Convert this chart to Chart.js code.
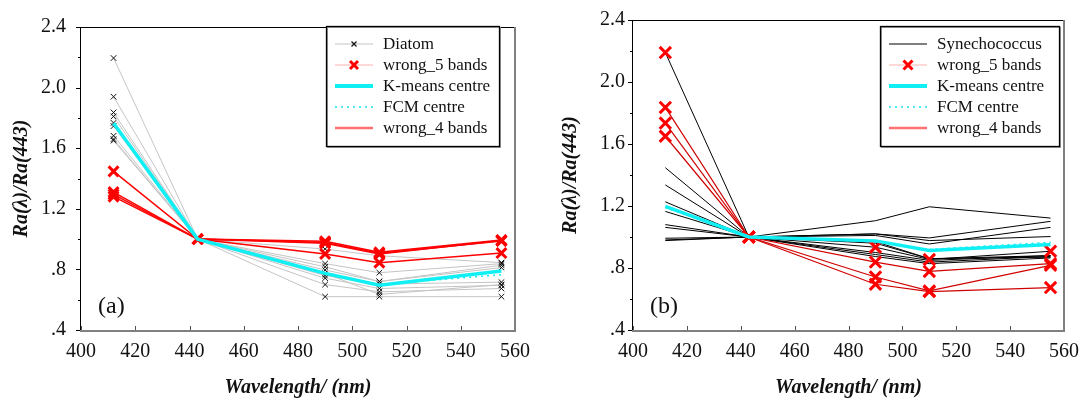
<!DOCTYPE html>
<html>
<head>
<meta charset="utf-8">
<script src="https://cdn.jsdelivr.net/npm/chart.js@4.4.1/dist/chart.umd.min.js"></script>
<style>
  html, body { margin: 0; padding: 0; background: #fff; }
  .panel { position: absolute; top: 0; }
</style>
</head>
<body>
<div class="panel" style="left:0"><canvas id="chartA" width="545" height="398"></canvas></div>
<div class="panel" style="left:545px"><canvas id="chartB" width="544" height="398"></canvas></div>
<script>
// wavelengths (nm) shared by every curve
const wavelengths = [412, 443, 490, 510, 555];

// y tick labels
const yTickValues = [0.4, 0.8, 1.2, 1.6, 2.0, 2.4];
const yTickText = ['.4', '.8', '1.2', '1.6', '2.0', '2.4'];

// panel (a) - Diatom spectra
const diatom1 = [2.195, 1, 0.62, 0.62, 0.62];
const diatom2 = [1.94, 1, 0.70, 0.652, 0.674];
const diatom3 = [1.836, 1, 0.742, 0.674, 0.695];
const diatom4 = [1.81, 1, 0.759, 0.703, 0.716];
const diatom5 = [1.767, 1, 0.796, 0.72, 0.812];
const diatom6 = [1.746, 1, 0.817, 0.72, 0.828];
const diatom7 = [1.682, 1, 0.838, 0.778, 0.838];
const diatom8 = [1.66, 1, 0.934, 0.89, 0.845];
const diatom9 = [1.65, 1, 0.774, 0.635, 0.70];
const wrong5a1 = [1.447, 1, 0.902, 0.844, 0.908];
const wrong5a2 = [1.31, 1, 0.985, 0.913, 0.994];
const wrong5a3 = [1.295, 1, 0.978, 0.907, 0.988];
const wrong5a4 = [1.28, 1, 0.972, 0.902, 0.99];
const kmeansA = [1.765, 1, 0.774, 0.695, 0.789];
const fcmA = [1.76, 1, 0.778, 0.70, 0.765];

// panel (b) - Synechococcus spectra
const syn1 = [1.447, 1, 0.90, 0.849, 0.88];
const syn2 = [1.336, 1, 0.887, 0.838, 0.875];
const syn3 = [1.227, 1, 0.96, 0.86, 0.88];
const syn4 = [1.165, 1, 0.97, 0.86, 0.87];
const syn5 = [1.08, 1, 1.02, 0.977, 1.003];
const syn6 = [1.062, 1, 1.01, 0.955, 1.062];
const syn7 = [0.992, 1, 1.105, 1.195, 1.122];
const syn8 = [0.981, 1, 1.02, 0.994, 1.101];
const syn9 = [0.977, 1, 0.874, 0.828, 0.865];
const wrong5b1 = [2.19, 1, 0.934, 0.855, 0.908];
const wrong5b2 = [1.836, 1, 0.838, 0.778, 0.828];
const wrong5b3 = [1.735, 1, 0.742, 0.652, 0.817];
const wrong5b4 = [1.65, 1, 0.695, 0.648, 0.674];
const kmeansB = [1.197, 1, 0.975, 0.913, 0.951];
const fcmB = [1.19, 1, 0.97, 0.92, 0.966];

const SERIF = '"Liberation Serif", "DejaVu Serif", serif';

function toPoints(vals) {
  return vals.map((v, i) => ({ x: wavelengths[i], y: v }));
}

function line(vals, style) {
  return Object.assign({
    data: toPoints(vals),
    fill: false,
    tension: 0,
    pointRadius: 0,
    pointHoverRadius: 0
  }, style);
}

const grayStyle = { borderColor: '#c4c4c4', borderWidth: 1, pointStyle: 'crossRot', pointRadius: 4, pointBorderColor: '#111', pointBorderWidth: 1, order: 6 };
const redStyle = { borderColor: '#ff0000', borderWidth: 1.5, pointStyle: 'crossRot', pointRadius: 7, pointBorderColor: '#ff0000', pointBorderWidth: 3, order: 3 };
const blackStyle = { borderColor: '#000', borderWidth: 1, order: 6 };
const cyanStyle = { borderColor: '#10f0f4', borderWidth: 3.5, order: 1 };
const dotStyle = { borderColor: '#10e8f0', borderWidth: 1.5, borderDash: [2, 4], order: 2 };

// frame, ticks, legend box and panel label
const framePlugin = {
  id: 'frame',
  afterDraw(chart, args, opts) {
    const { ctx, chartArea: a, scales: { x, y } } = chart;
    ctx.save();
    // ticks on y (outward)
    ctx.strokeStyle = '#000';
    ctx.lineWidth = 1;
    y.ticks.forEach(t => {
      const yp = Math.round(y.getPixelForValue(t.value)) + 0.5;
      const major = yTickValues.some(v => Math.abs(v - t.value) < 1e-6);
      ctx.beginPath();
      ctx.moveTo(a.left - (major ? 5 : 3), yp);
      ctx.lineTo(a.left, yp);
      ctx.stroke();
    });
    // ticks on x (inward)
    ctx.strokeStyle = '#555';
    x.ticks.forEach(t => {
      const xp = Math.round(x.getPixelForValue(t.value)) + 0.5;
      ctx.beginPath();
      ctx.moveTo(xp, a.bottom);
      ctx.lineTo(xp, a.bottom - 4);
      ctx.stroke();
    });
    // left and top axis lines
    ctx.strokeStyle = '#000';
    ctx.lineWidth = 1;
    ctx.beginPath();
    ctx.moveTo(a.left - 0.5, a.bottom);
    ctx.lineTo(a.left - 0.5, a.top + 0.5);
    ctx.moveTo(a.left - 4, a.top + 0.5);
    ctx.lineTo(a.right, a.top + 0.5);
    ctx.stroke();
    // right and bottom axis lines (gray)
    ctx.strokeStyle = '#808080';
    ctx.lineWidth = 2;
    ctx.beginPath();
    ctx.moveTo(a.right, a.top);
    ctx.lineTo(a.right, a.bottom + 1);
    ctx.moveTo(a.left - 1, a.bottom + 1);
    ctx.lineTo(a.right + 1, a.bottom + 1);
    ctx.stroke();

    // legend box
    const [bl, bt, br, bb] = opts.box;
    ctx.fillStyle = '#fff';
    ctx.fillRect(bl, bt, br - bl, bb - bt);
    ctx.strokeStyle = '#999';
    ctx.lineWidth = 1;
    ctx.strokeRect(bl + 1.5, bt + 1.5, br - bl, bb - bt);
    ctx.strokeStyle = '#000';
    ctx.lineWidth = 1.3;
    ctx.strokeRect(bl + 0.5, bt + 0.5, br - bl, bb - bt);
    opts.items.forEach((it, i) => {
      const ry = bt + 18 + i * 21;
      const x0 = bl + 9, x1 = bl + 47;
      ctx.strokeStyle = it.color;
      ctx.lineWidth = it.width;
      ctx.setLineDash(it.dash || []);
      ctx.beginPath();
      ctx.moveTo(x0, ry);
      ctx.lineTo(x1, ry);
      ctx.stroke();
      ctx.setLineDash([]);
      if (it.marker) {
        const m = it.marker, cx = (x0 + x1) / 2, r = m.size;
        ctx.strokeStyle = m.color;
        ctx.lineWidth = m.width;
        ctx.beginPath();
        ctx.moveTo(cx - r, ry - r); ctx.lineTo(cx + r, ry + r);
        ctx.moveTo(cx - r, ry + r); ctx.lineTo(cx + r, ry - r);
        ctx.stroke();
      }
      ctx.fillStyle = '#111';
      ctx.font = '17px ' + SERIF;
      ctx.textBaseline = 'middle';
      ctx.textAlign = 'left';
      ctx.fillText(it.text, bl + 57, ry + 1);
    });

    // panel label
    ctx.fillStyle = '#111';
    ctx.font = '24px ' + SERIF;
    ctx.textBaseline = 'middle';
    ctx.fillText(opts.label, a.left + 17, a.bottom - 23);
    ctx.restore();
  }
};

function makeOptions(yWidth, padRight, tickPad, titlePad, legend) {
  return {
    responsive: false,
    animation: false,
    devicePixelRatio: 1,
    layout: { padding: { top: 18, right: padRight, bottom: 0, left: 0 } },
    plugins: {
      legend: { display: false },
      tooltip: { enabled: false },
      frame: legend
    },
    scales: {
      x: {
        type: 'linear',
        min: 400,
        max: 560,
        grid: { display: false, drawTicks: false },
        border: { display: false },
        ticks: { stepSize: 20, padding: 10, color: '#111', font: { family: SERIF, size: 20 }, maxRotation: 0 },
        title: { display: true, text: 'Wavelength/ (nm)', color: '#111', padding: { top: 0, bottom: -2 },
          font: { family: SERIF, size: 20, weight: 'bold', style: 'italic' } },
        afterFit(scale) { scale.height = 398 - 330; }
      },
      y: {
        min: 0.4,
        max: 2.4,
        grid: { display: false, drawTicks: false },
        border: { display: false },
        ticks: {
          stepSize: 0.2,
          padding: tickPad,
          color: '#111',
          font: { family: SERIF, size: 20 },
          callback(v) {
            const i = yTickValues.findIndex(t => Math.abs(t - v) < 1e-6);
            return i >= 0 ? yTickText[i] : '';
          }
        },
        title: { display: true, text: 'Ra(λ)/Ra(443)', color: '#111', padding: { top: titlePad, bottom: 0 },
          font: { family: SERIF, size: 20, weight: 'bold', style: 'italic' } },
        afterFit(scale) { scale.width = yWidth; }
      }
    }
  };
}

const legendLine = {
  kmeans: { text: 'K-means centre', color: '#10f0f4', width: 4 },
  fcm: { text: 'FCM centre', color: '#10e8f0', width: 1.5, dash: [2, 4] },
  wrong4: { text: 'wrong_4 bands', color: '#ff7070', width: 2.5 }
};

new Chart(document.getElementById('chartA'), {
  type: 'line',
  data: {
    datasets: [
      ...[diatom1, diatom2, diatom3, diatom4, diatom5, diatom6, diatom7, diatom8, diatom9].map(v => line(v, grayStyle)),
      ...[wrong5a1, wrong5a2, wrong5a3, wrong5a4].map(v => line(v, redStyle)),
      line(fcmA, dotStyle),
      line(kmeansA, cyanStyle)
    ]
  },
  options: makeOptions(81, 30, 15, 10, {
    box: [326, 26, 499, 146],
    label: '(a)',
    items: [
      { text: 'Diatom', color: '#c4c4c4', width: 1, marker: { color: '#111', size: 2.5, width: 1.2 } },
      { text: 'wrong_5 bands', color: '#ffb0b0', width: 1, marker: { color: '#ff0000', size: 4, width: 3 } },
      legendLine.kmeans, legendLine.fcm, legendLine.wrong4
    ]
  }),
  plugins: [framePlugin]
});

const redStyleB = Object.assign({}, redStyle, { borderColor: '#d00000', borderWidth: 1.2, pointRadius: 8 });

new Chart(document.getElementById('chartB'), {
  type: 'line',
  data: {
    datasets: [
      ...[syn1, syn2, syn3, syn4, syn5, syn6, syn7, syn8, syn9].map(v => line(v, blackStyle)),
      line(wrong5b1, Object.assign({}, redStyleB, { borderColor: '#000', borderWidth: 1 })),
      ...[wrong5b2, wrong5b3, wrong5b4].map(v => line(v, redStyleB)),
      line(fcmB, dotStyle),
      line(kmeansB, cyanStyle)
    ]
  },
  options: makeOptions(88, 20, 8, 14, {
    box: [335, 26, 514, 146],
    label: '(b)',
    items: [
      { text: 'Synechococcus', color: '#000', width: 1 },
      { text: 'wrong_5 bands', color: '#ffb0b0', width: 1, marker: { color: '#ff0000', size: 4.5, width: 3 } },
      legendLine.kmeans, legendLine.fcm, legendLine.wrong4
    ]
  }),
  plugins: [framePlugin]
});
</script>
</body>
</html>
